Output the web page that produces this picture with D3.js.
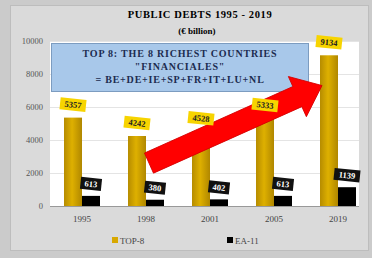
<!DOCTYPE html>
<html>
<head>
<meta charset="utf-8">
<script src="https://cdn.jsdelivr.net/npm/d3@7"></script>
<style>
  body { margin: 0; background: #cbcbcb; }
  svg { display: block; font-family: "Liberation Serif", "DejaVu Serif", serif; }
</style>
</head>
<body>
<script>
const years = ["1995", "1998", "2001", "2005", "2019"];
const top8 = [5357, 4242, 4528, 5333, 9134];
const ea11 = [613, 380, 402, 613, 1139];
const yTicks = [0, 2000, 4000, 6000, 8000, 10000];
const seriesNames = ["TOP-8", "EA-11"];
const boxLines = ["TOP 8: THE 8 RICHEST COUNTRIES", "\"FINANCIALES\"", "= BE+DE+IE+SP+FR+IT+LU+NL"];

const width = 372, height = 258;
const plot = {left: 50, right: 359, top: 41, bottom: 206};

const svg = d3.select("body").append("svg")
  .attr("width", width)
  .attr("height", height);

const defs = svg.append("defs");
const gold = defs.append("linearGradient").attr("id", "gold");
gold.append("stop").attr("offset", "0%").attr("stop-color", "#b68c00");
gold.append("stop").attr("offset", "45%").attr("stop-color", "#deb000");
gold.append("stop").attr("offset", "100%").attr("stop-color", "#b08700");

// outer frame
svg.append("rect")
  .attr("x", 10.5).attr("y", 5.5)
  .attr("width", 358).attr("height", 245)
  .attr("fill", "#dadada")
  .attr("stroke", "#bdbdbd");

svg.append("text")
  .attr("x", 200).attr("y", 18)
  .attr("text-anchor", "middle")
  .style("font-size", "10.5px").style("font-weight", "bold")
  .style("letter-spacing", "0.6px")
  .text("PUBLIC DEBTS 1995   - 2019");

svg.append("text")
  .attr("x", 197).attr("y", 34)
  .attr("text-anchor", "middle")
  .style("font-size", "9px").style("font-weight", "bold")
  .text("(€ billion)");

const x = d3.scaleBand()
  .domain(years)
  .range([50, 370])
  .paddingInner(0.4375)
  .paddingOuter(0.21875);

const sub = d3.scaleBand()
  .domain(seriesNames)
  .range([0, x.bandwidth()]);

const y = d3.scaleLinear()
  .domain([0, 10000])
  .range([plot.bottom, plot.top]);

svg.append("rect")
  .attr("x", plot.left).attr("y", plot.top)
  .attr("width", plot.right - plot.left)
  .attr("height", plot.bottom - plot.top)
  .attr("fill", "#fff");

const yAxis = svg.append("g")
  .attr("transform", "translate(" + plot.left + ",0)")
  .call(d3.axisLeft(y).tickValues(yTicks).tickSize(0).tickPadding(7).tickFormat(d3.format("d")));
yAxis.select(".domain").remove();
yAxis.selectAll("text").style("font-size", "8.5px").attr("fill", "#555").style("font-family", "Liberation Serif, serif");

svg.append("g")
  .selectAll("line")
  .data(yTicks.slice(1))
  .enter()
  .append("line")
  .attr("x1", plot.left).attr("x2", plot.right)
  .attr("y1", d => y(d) + 0.5).attr("y2", d => y(d) + 0.5)
  .attr("stroke", "#e4e4e4");

const xAxis = svg.append("g")
  .attr("transform", "translate(0," + plot.bottom + ")")
  .call(d3.axisBottom(x).tickSize(0).tickPadding(10));
xAxis.select(".domain").remove();
xAxis.selectAll("text").style("font-size", "9px").attr("fill", "#444").style("font-family", "Liberation Serif, serif");

svg.append("line")
  .attr("x1", plot.left).attr("x2", plot.right)
  .attr("y1", plot.bottom + 0.5).attr("y2", plot.bottom + 0.5)
  .attr("stroke", "#999");

const rows = years.map((yr, i) => ({year: yr, values: [top8[i], ea11[i]]}));

const groups = svg.selectAll(".grp")
  .data(rows)
  .enter()
  .append("g")
  .attr("class", "grp")
  .attr("transform", d => "translate(" + x(d.year) + ",0)");

groups.selectAll("rect")
  .data(d => d.values.map((v, j) => ({name: seriesNames[j], value: v})))
  .enter()
  .append("rect")
  .attr("x", d => sub(d.name))
  .attr("y", d => y(d.value))
  .attr("width", sub.bandwidth())
  .attr("height", d => plot.bottom - y(d.value))
  .attr("fill", d => d.name === "TOP-8" ? "url(#gold)" : "#000");

// blue text box
const box = svg.append("g");
box.append("rect")
  .attr("x", 51.5).attr("y", 43.5)
  .attr("width", 257).attr("height", 48)
  .attr("fill", "#a8c8ea")
  .attr("stroke", "#7c9cc0");
box.selectAll("text")
  .data(boxLines)
  .enter()
  .append("text")
  .attr("x", 180)
  .attr("y", (d, i) => 57 + i * 13)
  .attr("text-anchor", "middle")
  .attr("fill", "#1c2c50")
  .style("font-size", "10px").style("font-weight", "bold")
  .style("letter-spacing", "0.8px")
  .text(d => d);

// red arrow
const a0 = [x("1998") + sub("EA-11") + 3, y(2600)];
const a1 = [x("2019") + sub("TOP-8") + 2, y(7300)];
const len = Math.hypot(a1[0] - a0[0], a1[1] - a0[1]);
const ang = Math.atan2(a1[1] - a0[1], a1[0] - a0[0]) * 180 / Math.PI;
const hw = 11, headW = 22, headL = 27;
svg.append("path")
  .attr("transform", "translate(" + a0[0] + "," + a0[1] + ") rotate(" + ang + ")")
  .attr("d", d3.line()([[0, -hw], [len - headL, -hw], [len - headL, -headW], [len, 0],
    [len - headL, headW], [len - headL, hw], [0, hw]]) + "Z")
  .attr("fill", "#ff0000")
  .attr("stroke", "#d40000")
  .attr("stroke-width", 0.8);

// data labels
function addLabel(cx, cy, txt, bg, fg, w) {
  const g = svg.append("g")
    .attr("transform", "translate(" + cx + "," + cy + ") rotate(6)");
  g.append("rect")
    .attr("x", -w / 2).attr("y", -6)
    .attr("width", w).attr("height", 12)
    .attr("fill", bg);
  g.append("text")
    .attr("y", 3)
    .attr("text-anchor", "middle")
    .attr("fill", fg)
    .style("font-size", "8.5px").style("font-weight", "bold")
    .text(txt);
}

rows.forEach(d => {
  addLabel(x(d.year) + sub("TOP-8") + sub.bandwidth() / 2, y(d.values[0]) - 13, d.values[0], "#f7d400", "#222", 26);
  addLabel(x(d.year) + sub("EA-11") + sub.bandwidth() / 2, y(d.values[1]) - 12, d.values[1], "#111", "#fff", d.values[1] > 999 ? 26 : 21);
});

// legend
const legend = svg.append("g").attr("transform", "translate(0,241)");
const legX = [112, 227];
seriesNames.forEach((n, i) => {
  legend.append("rect")
    .attr("x", legX[i]).attr("y", -4)
    .attr("width", 6).attr("height", 6)
    .attr("fill", i === 0 ? "#d8a800" : "#000");
  legend.append("text")
    .attr("x", legX[i] + 8).attr("y", 3)
    .attr("fill", "#444")
    .style("font-size", "9px")
    .text(n);
});
</script>
</body>
</html>
